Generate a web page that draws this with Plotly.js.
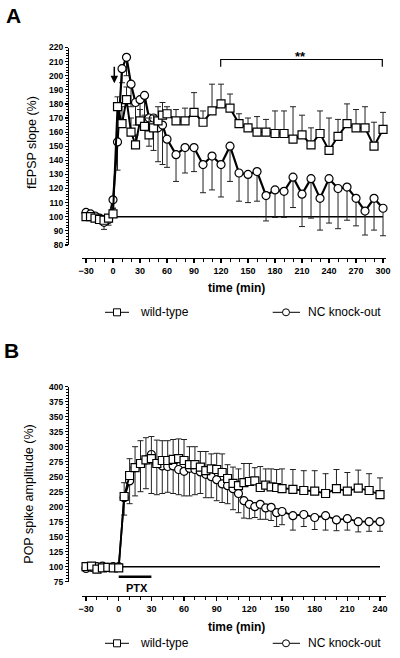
<!DOCTYPE html>
<html><head><meta charset="utf-8">
<script src="https://cdn.plot.ly/plotly-3.0.1.min.js"></script>
<style>html,body{margin:0;padding:0;background:#fff}#chart{width:400px;height:658px}</style>
</head><body><div id="chart"></div>
<script>
// ---------- Panel A data (fEPSP slope %) ----------
const tA = [-30,-25,-20,-15,-10,-5,0,5,10,15,20,25,30,35,40,45,50,55,60,70,80,90,100,110,120,130,140,150,160,170,180,190,200,210,220,230,240,250,260,270,280,290,300];
const wtA = [100,100,99,98,97.5,99,102, 178,166,183,160,151,168,164,158,163,168,172,173, 168,168,174,167,175,180,177,166,163,160,160,159,159,155,158,151,159,147,157,166,163,163,150,162];
const wtAtop = [102,102,101,100,100,101,106, 185,178,192,170,158,176,172,170,172,178,181,178, 176,177,188,175,194,194,187,173,170,171,169,175,175,178,172,163,175,170,169,180,176,178,167,174];
const koA = [103,102,100.5,99,96,98,112, 153,205,213,194,181,183,186,170,170,163,165,155, 144,149,149,137,143,137,150,131,130,132,115,119,118,128,116,127,113,127,120,121,113,104,113,106];
const koAbot = [100,99,98,97,91,94,106, 133,195,200,178,165,166,170,150,147,139,137,135, 125,131,132,117,119,114,125,111,110,111,97,99.5,99.5,106.5,93,99,90.5,95.5,91.5,97.5,93.5,87,90.5,86.5];

// ---------- Panel B data (POP spike amplitude %) ----------
const tB = [-30,-25,-20,-15,-10,-5,0,5,10,15,20,25,30,35,40,45,50,55,60,65,70,75,80,85,90,95,100,105,110,115,120,125,130,135,140,145,150,160,170,180,190,200,210,220,230,240];
const wtB = [100,101,96,98,99,98,98, 217,252,265,272,278,280,272,277,277,279,280,277,270,270,266,260,263,262,257,247,239,235,240,242,243,232,236,233,232,230, 229,227,226,222,230,226,231,227,220];
const wtBtop = [103,104,99,101,102,101,101, 240,280,300,310,315,317,311,310,310,312,313,312,300,300,292,292,288,289,288,270,266,263,272,272,265,267,263,263,262,263, 262,260,260,255,262,257,261,255,248];
const koB = [97,99,100,101,99,100,100, 215,243,265,272,278,287,272,268,267,268,262,259,264,262,258,254,250,245,238,235,230,222,210,204,200,204,198,199,190,192, 185,187,182,185,178,180,175,175,175];
const koBbot = [95,96,97,98,96,97,97, 186,205,218,225,230,222,220,222,224,222,220,218,218,220,222,215,215,210,207,205,195,190,181,180,182,179,179,177,167,170, 161,167,162,161,160,161,158,159,159];

const seriesNames = ['wild-type','NC knock-out'];
const xTitle = 'time (min)';
const yTitleA = 'fEPSP slope (%)';
const yTitleB = 'POP spike amplitude (%)';

// ---------- layout helpers ----------
const W = 400, H = 658;
const X = px => px / W, Y = py => 1 - py / H;
const FONT = '"Liberation Sans", Arial, Helvetica, sans-serif';
const up = (v, tops) => tops.map((t, i) => Math.max(0, t - v[i]));
const down = (v, bots) => bots.map((b, i) => Math.max(0, v[i] - b));
const zeros = n => new Array(n).fill(0);

function mk(x, y, err, isUp, sym, xa, ya, lw) {
  return {
    x: x, y: y, xaxis: xa, yaxis: ya, type: 'scatter', mode: 'lines+markers',
    cliponaxis: false, showlegend: false, hoverinfo: 'skip',
    line: {color: '#000', width: lw},
    marker: {symbol: sym, size: 8, color: '#fff', line: {color: '#000', width: 1.2}},
    error_y: {type: 'data', symmetric: false,
      array: isUp ? err : zeros(x.length),
      arrayminus: isUp ? zeros(x.length) : err,
      color: '#222', thickness: 1, width: 3}
  };
}

const data = [
  mk(tA, koA, down(koA, koAbot), false, 'circle', 'x', 'y', 2.2),
  mk(tA, wtA, up(wtA, wtAtop), true, 'square', 'x', 'y', 2),
  mk(tB, koB, down(koB, koBbot), false, 'circle', 'x2', 'y2', 1.8),
  mk(tB, wtB, up(wtB, wtBtop), true, 'square', 'x2', 'y2', 1.8)
];

const tickFont = {family: FONT, size: 9, color: '#000', weight: 'bold'};
const xCommon = {
  anchor: 'free', showline: true, linecolor: '#000', linewidth: 1.3,
  ticks: 'outside', ticklen: 4, tickwidth: 1.2, tickcolor: '#000',
  tickmode: 'linear', tick0: -30, dtick: 30,
  minor: {tick0: -30, dtick: 10, ticks: 'outside', ticklen: 3, tickwidth: 1, tickcolor: '#000'},
  tickfont: tickFont, showgrid: false, zeroline: false, fixedrange: true
};
const yCommon = {
  anchor: 'free', position: X(68), showline: true, linecolor: '#000', linewidth: 1.3,
  ticks: 'outside', ticklen: 3, tickwidth: 1.2, tickcolor: '#000', tickmode: 'linear',
  tickfont: {family: FONT, size: 8.5, color: '#000', weight: 'bold'},
  showgrid: false, zeroline: false, fixedrange: true
};

function txt(t, px, py, size, bold, extra) {
  return Object.assign({text: t, xref: 'paper', yref: 'paper', x: X(px), y: Y(py),
    xanchor: 'center', yanchor: 'middle', showarrow: false,
    font: {size: size, family: FONT, color: '#000', weight: bold ? 'bold' : 'normal'}}, extra || {});
}

const layout = {
  width: W, height: H, margin: {l: 0, r: 0, t: 0, b: 0},
  paper_bgcolor: '#fff', plot_bgcolor: 'rgba(0,0,0,0)',
  font: {family: FONT, color: '#000'},
  showlegend: false,
  xaxis: Object.assign({}, xCommon, {domain: [X(81.7), X(386)], range: [-34.8, 303.3], position: Y(258)}),
  yaxis: Object.assign({}, yCommon, {domain: [Y(244.9), Y(47.5)], range: [80, 220], tick0: 80, dtick: 10,
    minor: {tick0: 80, dtick: 2, ticks: 'outside', ticklen: 2, tickwidth: 1, tickcolor: '#000'}}),
  xaxis2: Object.assign({}, xCommon, {domain: [X(81.7), X(386)], range: [-34.0, 245.5], position: Y(596)}),
  yaxis2: Object.assign({}, yCommon, {domain: [Y(581.7), Y(386.7)], range: [75, 400], tick0: 75, dtick: 25,
    minor: {tick0: 75, dtick: 5, ticks: 'outside', ticklen: 2, tickwidth: 1, tickcolor: '#000'}}),
  shapes: [
    {type: 'line', xref: 'x', yref: 'y', x0: 0, x1: 300, y0: 100, y1: 100, line: {color: '#000', width: 1.5}, layer: 'below'},
    {type: 'line', xref: 'x2', yref: 'y2', x0: 0, x1: 240, y0: 100, y1: 100, line: {color: '#000', width: 1.5}, layer: 'below'},
    {type: 'path', xref: 'paper', yref: 'paper',
      path: `M ${X(220.7)} ${Y(66.7)} L ${X(220.7)} ${Y(59.5)} L ${X(382.3)} ${Y(59.5)} L ${X(382.3)} ${Y(66.7)}`,
      line: {color: '#000', width: 1.2}},
    {type: 'line', xref: 'x2', yref: 'paper', x0: 0, x1: 30, y0: Y(576.7), y1: Y(576.7), line: {color: '#000', width: 2.5}},
    // legend A
    {type: 'line', xref: 'paper', yref: 'paper', x0: X(105), x1: X(129), y0: Y(312.3), y1: Y(312.3), line: {color: '#000', width: 1}},
    {type: 'rect', xref: 'paper', yref: 'paper', x0: X(113.5), x1: X(120.5), y0: Y(315.8), y1: Y(308.8), line: {color: '#000', width: 1}, fillcolor: '#fff'},
    {type: 'line', xref: 'paper', yref: 'paper', x0: X(272.7), x1: X(300), y0: Y(312.3), y1: Y(312.3), line: {color: '#000', width: 1}},
    {type: 'circle', xref: 'paper', yref: 'paper', x0: X(282.5), x1: X(289.5), y0: Y(315.8), y1: Y(308.8), line: {color: '#000', width: 1}, fillcolor: '#fff'},
    // legend B
    {type: 'line', xref: 'paper', yref: 'paper', x0: X(105), x1: X(129), y0: Y(643.3), y1: Y(643.3), line: {color: '#000', width: 1}},
    {type: 'rect', xref: 'paper', yref: 'paper', x0: X(113.5), x1: X(120.5), y0: Y(646.8), y1: Y(639.8), line: {color: '#000', width: 1}, fillcolor: '#fff'},
    {type: 'line', xref: 'paper', yref: 'paper', x0: X(272.7), x1: X(300), y0: Y(643.3), y1: Y(643.3), line: {color: '#000', width: 1}},
    {type: 'circle', xref: 'paper', yref: 'paper', x0: X(282.5), x1: X(289.5), y0: Y(646.8), y1: Y(639.8), line: {color: '#000', width: 1}, fillcolor: '#fff'}
  ],
  annotations: [
    txt('A', 13.5, 15.5, 21, true),
    txt('B', 11.5, 350, 21, true),
    txt(yTitleA, 32, 143, 12.5, false, {textangle: -90}),
    txt(yTitleB, 29, 494.7, 12.5, false, {textangle: -90}),
    txt(xTitle, 236.7, 288.3, 12, true),
    txt(xTitle, 236.7, 626.7, 12, true),
    txt(seriesNames[0], 138, 312.3, 12, false, {xanchor: 'left'}),
    txt(seriesNames[1], 306, 312.3, 12, false, {xanchor: 'left'}),
    txt(seriesNames[0], 138, 643.3, 12, false, {xanchor: 'left'}),
    txt(seriesNames[1], 306, 643.3, 12, false, {xanchor: 'left'}),
    txt('**', 300, 57, 13, true),
    txt('PTX', 137.3, 588.3, 11, true),
    {text: '', xref: 'paper', yref: 'paper', x: X(114.3), y: Y(83.3), ax: 0, ay: -18, showarrow: true,
      arrowhead: 2, arrowsize: 1, arrowwidth: 1.5, arrowcolor: '#000'}
  ]
};

Plotly.newPlot('chart', data, layout, {displayModeBar: false, staticPlot: true});
</script>
</body></html>
